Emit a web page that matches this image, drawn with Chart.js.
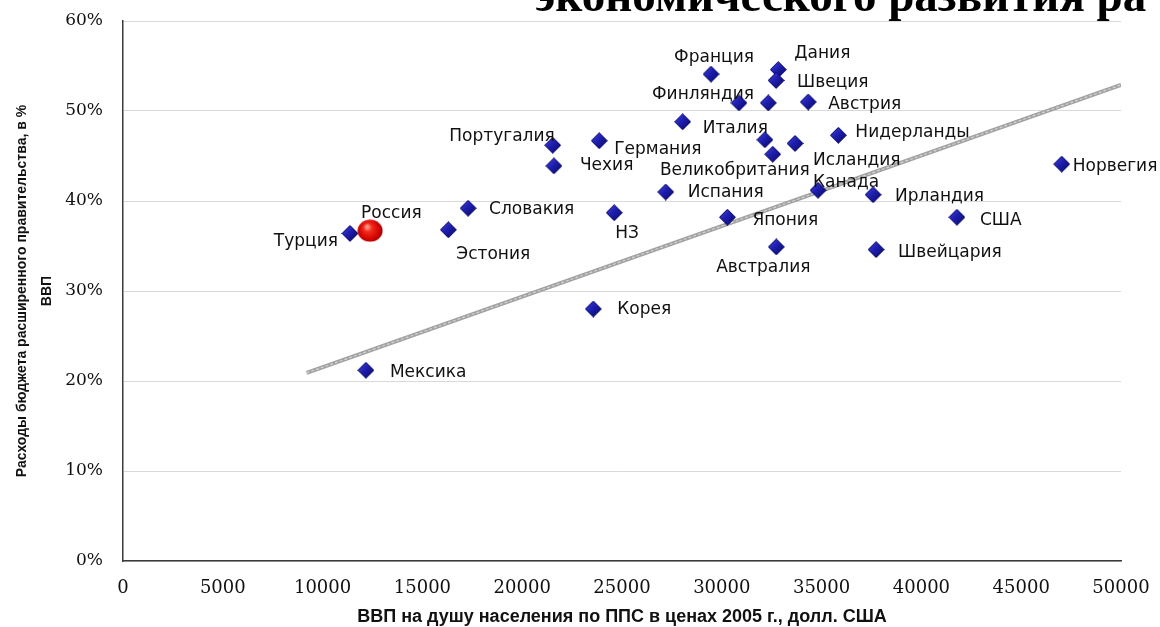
<!DOCTYPE html>
<html>
<head>
<meta charset="utf-8">
<script src="https://cdn.jsdelivr.net/npm/chart.js@4.4.1/dist/chart.umd.min.js"></script>
<style>
  html, body { margin: 0; padding: 0; background: #ffffff; overflow: hidden; }
  #wrap { width: 1160px; height: 627px; position: relative; }
</style>
</head>
<body>
<div id="wrap"><canvas id="chart" width="1160" height="627"></canvas></div>
<script>
// OECD countries: GDP per capita (PPP, 2005 USD) vs. general government spending, % of GDP
const countries = [
  'Турция', 'Мексика', 'Эстония', 'Словакия', 'Португалия', 'Чехия', 'Германия',
  'НЗ', 'Корея', 'Испания', 'Италия', 'Франция', 'Финляндия', 'Япония', '',
  'Дания', 'Швеция', 'Австрия', '', 'Исландия', 'Великобритания', 'Нидерланды',
  'Канада', 'Австралия', 'Ирландия', 'США', 'Швейцария', 'Норвегия'
];
const gdpPerCapita = [
  11370, 12170, 16300, 17290, 21530, 21590, 23860,
  24610, 23560, 27190, 28040, 29460, 30860, 30280, 32330,
  32830, 32720, 34330, 32160, 33670, 32550, 35840,
  34820, 32730, 37580, 41780, 37730, 47030
];
const spendingShare = [
  36.4, 21.2, 36.8, 39.2, 46.2, 43.9, 46.7,
  38.7, 28.0, 41.0, 48.8, 54.1, 50.9, 38.2, 50.9,
  54.6, 53.4, 51.0, 46.8, 46.4, 45.2, 47.3,
  41.2, 34.9, 40.7, 38.2, 34.6, 44.1
];

// Russia, highlighted separately
const russiaName = 'Россия';
const russiaGdp = [12380];
const russiaShare = [36.7];

// Linear trend line end points
const trendGdp = [9200, 50000];
const trendShare = [20.9, 52.9];

// Axis ranges
const xMin = 0, xMax = 50000, xStep = 5000;
const yMin = 0, yMax = 60, yStep = 10;

// Label placement next to each point: [dx, dy, align]
const labelPlacement = [
  [-12, 8, 'right'], [24, 2, 'left'], [8, 25, 'left'], [21, 1, 'left'], [2, -9, 'right'],
  [26, 0, 'left'], [15, 9, 'left'], [1, 21, 'left'], [24, 1, 'left'], [22, 1, 'left'],
  [20, 7, 'left'], [3, -17, 'center'], [-36, -8, 'center'], [25, 3, 'left'], [0, 0, 'left'],
  [16, -16, 'left'], [21, 2, 'left'], [20, 3, 'left'], [0, 0, 'left'], [18, 17, 'left'],
  [37, 16, 'right'], [17, -3, 'left'], [-5, -8, 'left'], [-13, 21, 'center'], [22, 2, 'left'],
  [23, 3, 'left'], [22, 3, 'left'], [11, 2, 'left']
];
const russiaPlacement = [-9, -17, 'left'];

// Bevelled blue diamond marker
function makeDiamond(size) {
  const c = document.createElement('canvas');
  c.width = size; c.height = size;
  const g = c.getContext('2d');
  const h = size / 2;
  g.beginPath();
  g.moveTo(h, 0.5); g.lineTo(size - 0.5, h); g.lineTo(h, size - 0.5); g.lineTo(0.5, h);
  g.closePath();
  const grad = g.createLinearGradient(0, 0, size, size);
  grad.addColorStop(0, '#4a4ae0');
  grad.addColorStop(0.45, '#1e1eb0');
  grad.addColorStop(1, '#08085e');
  g.fillStyle = grad;
  g.fill();
  g.strokeStyle = '#0b0b66';
  g.lineWidth = 1;
  g.stroke();
  return c;
}

// Glossy red sphere marker
function makeSphere(w, hgt) {
  const c = document.createElement('canvas');
  c.width = w; c.height = hgt;
  const g = c.getContext('2d');
  const grad = g.createRadialGradient(w * 0.38, hgt * 0.32, 1, w * 0.5, hgt * 0.5, w * 0.55);
  grad.addColorStop(0, '#ff9a8a');
  grad.addColorStop(0.25, '#f22a1a');
  grad.addColorStop(0.7, '#d00000');
  grad.addColorStop(1, '#7a0000');
  g.fillStyle = grad;
  g.beginPath();
  g.ellipse(w / 2, hgt / 2, w / 2 - 0.5, hgt / 2 - 0.5, 0, 0, Math.PI * 2);
  g.fill();
  return c;
}

const diamond = makeDiamond(17);
const sphere = makeSphere(26, 23);

const labelFont = '17px "DejaVu Sans", Verdana, sans-serif';

const pointLabels = {
  id: 'pointLabels',
  afterDatasetsDraw(chart) {
    const ctx = chart.ctx;
    ctx.save();
    ctx.font = labelFont;
    ctx.fillStyle = '#111111';
    ctx.textBaseline = 'middle';
    const meta = chart.getDatasetMeta(1);
    meta.data.forEach((pt, i) => {
      const name = countries[i];
      if (!name) return;
      const [dx, dy, align] = labelPlacement[i];
      ctx.textAlign = align;
      ctx.fillText(name, pt.x + dx, pt.y + dy);
    });
    const rMeta = chart.getDatasetMeta(2);
    rMeta.data.forEach((pt) => {
      const [dx, dy, align] = russiaPlacement;
      ctx.textAlign = align;
      ctx.fillText(russiaName, pt.x + dx, pt.y + dy);
    });
    ctx.restore();
  }
};

const headline = {
  id: 'headline',
  afterDraw(chart) {
    const ctx = chart.ctx;
    ctx.save();
    ctx.font = 'bold 47px "Liberation Serif", "Times New Roman", serif';
    ctx.fillStyle = '#000000';
    ctx.textAlign = 'left';
    ctx.textBaseline = 'alphabetic';
    ctx.fillText('экономического развития ра', 535, 11);
    ctx.restore();
  }
};

new Chart(document.getElementById('chart'), {
  type: 'scatter',
  data: {
    datasets: [
      {
        type: 'line',
        label: 'Тренд',
        data: trendGdp.map((x, i) => ({ x, y: trendShare[i] })),
        borderColor: '#a2a2a2',
        borderWidth: 4,
        pointRadius: 0,
        fill: false,
        order: 3
      },
      {
        label: 'Страны ОЭСР',
        data: gdpPerCapita.map((x, i) => ({ x, y: spendingShare[i] })),
        pointStyle: diamond,
        pointRadius: 9,
        order: 1
      },
      {
        label: russiaName,
        data: russiaGdp.map((x, i) => ({ x, y: russiaShare[i] })),
        pointStyle: sphere,
        pointRadius: 12,
        order: 0
      },
      {
        type: 'line',
        label: 'Тренд (блик)',
        data: trendGdp.map((x, i) => ({ x, y: trendShare[i] })),
        borderColor: '#d4d4d4',
        borderWidth: 1.2,
        borderDash: [3, 2],
        pointRadius: 0,
        fill: false,
        order: 2
      }
    ]
  },
  options: {
    responsive: false,
    animation: false,
    layout: { padding: { top: 21, right: 39, left: 0, bottom: 0 } },
    plugins: {
      legend: { display: false },
      tooltip: { enabled: false },
      title: { display: false }
    },
    scales: {
      x: {
        type: 'linear',
        min: xMin,
        max: xMax,
        afterFit(scale) {
          scale.height = 66;
          scale.paddingLeft = 0;
          scale.paddingRight = 0;
        },
        ticks: {
          stepSize: xStep,
          padding: 17,
          color: '#111111',
          font: { family: '"DejaVu Serif", "Liberation Serif", serif', size: 18 },
          callback: (v) => String(v),
          maxRotation: 0
        },
        grid: { display: false, drawTicks: false },
        border: { display: true, color: '#3a3a3a', width: 1.5 },
        title: {
          display: true,
          text: 'ВВП на душу населения по ППС в ценах 2005 г., долл. США',
          color: '#111111',
          font: { family: '"Liberation Sans", Arial, sans-serif', size: 18, weight: 'bold', lineHeight: 1 },
          padding: { top: 0, bottom: 1 }
        }
      },
      y: {
        min: yMin,
        max: yMax,
        afterFit(scale) {
          scale.width = 123;
          scale.paddingTop = 0;
          scale.paddingBottom = 0;
        },
        ticks: {
          stepSize: yStep,
          padding: 20,
          color: '#111111',
          font: { family: '"DejaVu Serif", "Liberation Serif", serif', size: 17 },
          callback: (v) => v + '%'
        },
        grid: { color: '#d9d9d9', lineWidth: 1, drawTicks: false },
        border: { display: true, color: '#3a3a3a', width: 1.5 },
        title: {
          display: true,
          text: ['Расходы бюджета расширенного правительства, в %', 'ВВП'],
          color: '#111111',
          font: { family: '"Liberation Sans", Arial, sans-serif', size: 14, weight: 'bold', lineHeight: 1.75 },
          padding: { top: 10, bottom: 0 }
        }
      }
    }
  },
  plugins: [pointLabels, headline]
});
</script>
</body>
</html>
